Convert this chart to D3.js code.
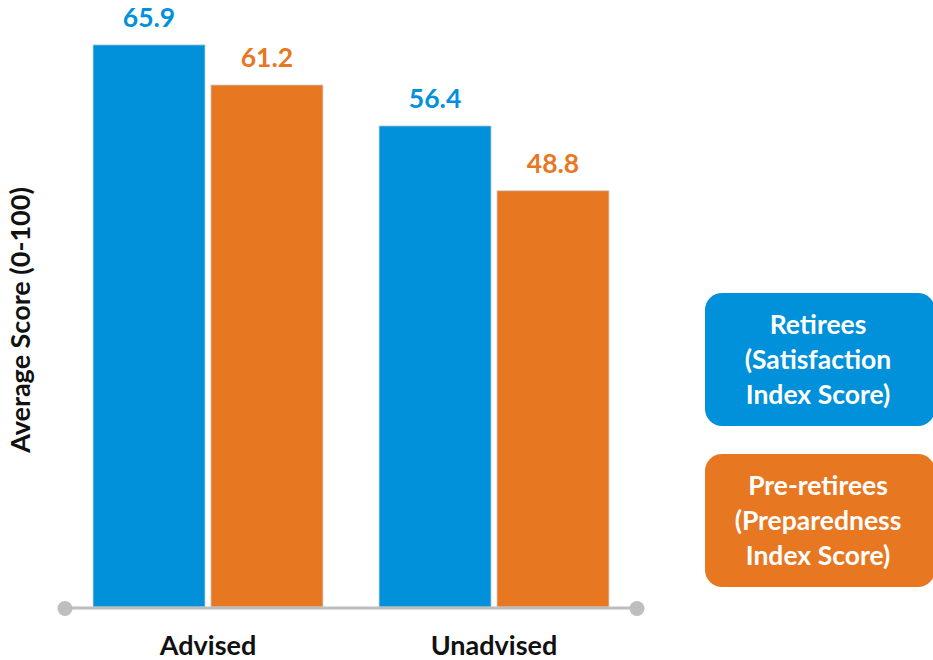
<!DOCTYPE html>
<html>
<head>
<meta charset="utf-8">
<script src="https://cdn.jsdelivr.net/npm/d3@7"></script>
<style>
  html, body { margin: 0; padding: 0; background: #fff; }
  svg { display: block; }
  text { font-family: Lato, "Open Sans", sans-serif; font-weight: 700; }
</style>
</head>
<body>
<svg id="chart" width="933" height="660"></svg>
<script>
// Groups along the x axis
const categories = ["Advised", "Unadvised"];
// Series and their values (average score, 0-100)
const seriesNames = ["Retirees", "Pre-retirees"];
const retireesValues = [65.9, 56.4];
const preRetireesValues = [61.2, 48.8];
// Legend box text, one line per entry
const legendLines = [
  ["Retirees", "(Satisfaction", "Index Score)"],
  ["Pre-retirees", "(Preparedness", "Index Score)"]
];
const yTitle = "Average Score (0-100)";

const colors = ["#0091da", "#e87722"];
const seriesValues = [retireesValues, preRetireesValues];

const svg = d3.select("#chart");

const baseline = 607;
const y = d3.scaleLinear().domain([0, 100]).range([baseline, baseline - 853]);

const x0 = d3.scaleBand().domain(categories).range([93, 609])
  .paddingInner(0.196).paddingOuter(0);
const x1 = d3.scaleBand().domain(seriesNames).range([0, x0.bandwidth()])
  .paddingInner(0.05).paddingOuter(0);

const rows = categories.flatMap((c, i) =>
  seriesNames.map((s, j) => ({ cat: c, series: s, idx: j, value: seriesValues[j][i] })));

// Bars
svg.append("g").selectAll("rect").data(rows).join("rect")
  .attr("x", d => x0(d.cat) + x1(d.series))
  .attr("y", d => y(d.value))
  .attr("width", x1.bandwidth())
  .attr("height", d => baseline - y(d.value))
  .attr("fill", d => colors[d.idx])
  .attr("stroke", "#d4d4d4")
  .attr("stroke-width", 0.8);

// Value labels above each bar
svg.append("g").selectAll("text").data(rows).join("text")
  .attr("x", d => x0(d.cat) + x1(d.series) + x1.bandwidth() / 2)
  .attr("y", d => y(d.value) - 18)
  .attr("text-anchor", "middle")
  .attr("font-size", 26.5)
  .attr("fill", d => colors[d.idx])
  .text(d => d.value.toFixed(1));

// Baseline with round end caps
const axisLeft = 65, axisRight = 637;
svg.append("line")
  .attr("x1", axisLeft).attr("x2", axisRight)
  .attr("y1", baseline + 1).attr("y2", baseline + 1)
  .attr("stroke", "#bcbebf").attr("stroke-width", 3);
svg.append("g").selectAll("circle").data([axisLeft, axisRight]).join("circle")
  .attr("cx", d => d).attr("cy", baseline + 1.5).attr("r", 7.5)
  .attr("fill", "#bcbebf");

// Category labels
const xAxis = d3.axisBottom(x0).tickSize(0).tickPadding(0);
const gx = svg.append("g").attr("transform", `translate(0,${baseline})`).call(xAxis);
gx.select(".domain").remove();
gx.selectAll("text")
  .attr("y", 48)
  .attr("dy", 0)
  .attr("font-size", 27)
  .attr("fill", "#111")
  .style("font-family", "Lato, 'Open Sans', sans-serif")
  .style("font-weight", 700);

// Y axis title
svg.append("text")
  .attr("transform", "translate(30,320) rotate(-90)")
  .attr("text-anchor", "middle")
  .attr("font-size", 27)
  .attr("fill", "#111")
  .text(yTitle);

// Legend boxes
const legend = svg.append("g").selectAll("g").data(legendLines).join("g")
  .attr("transform", (d, i) => `translate(705,${293 + i * 161})`);
legend.append("rect")
  .attr("width", 230).attr("height", 133)
  .attr("rx", 17).attr("ry", 17)
  .attr("fill", (d, i) => colors[i]);
legend.selectAll("text").data(d => d).join("text")
  .attr("x", 113)
  .attr("y", (d, k) => 41 + k * 35)
  .attr("text-anchor", "middle")
  .attr("font-size", 26.5)
  .attr("fill", "#fff")
  .text(d => d);
</script>
</body>
</html>
